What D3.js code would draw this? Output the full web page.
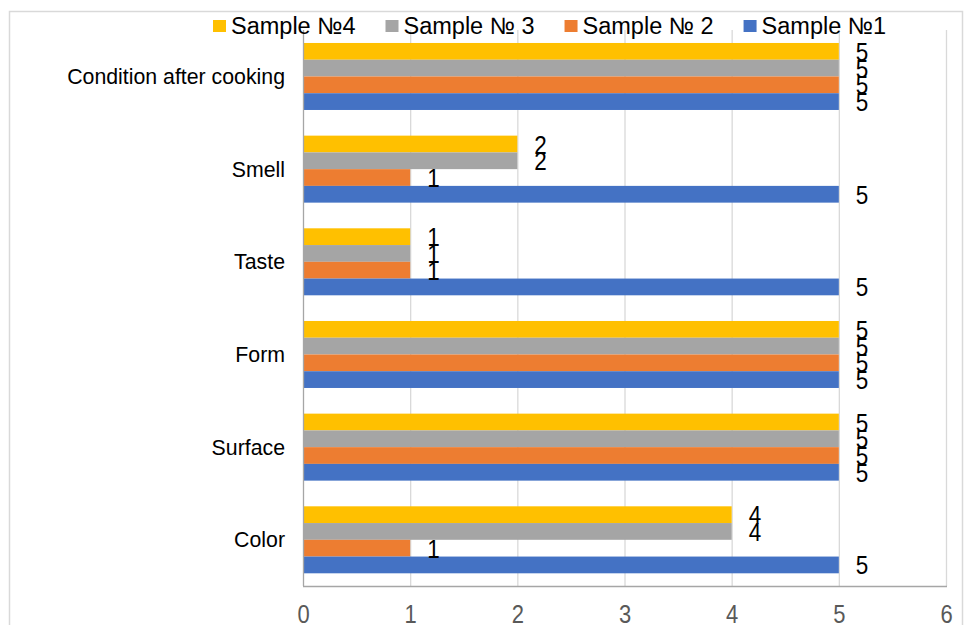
<!DOCTYPE html>
<html>
<head>
<meta charset="utf-8">
<script src="https://cdn.jsdelivr.net/npm/d3@7"></script>
<style>
  html, body { margin: 0; padding: 0; background: #fff; }
  svg { display: block; font-family: "Liberation Sans", Arial, sans-serif; }
</style>
</head>
<body>
<svg id="chart" width="966" height="625"></svg>
<script>
// Categories, listed top to bottom
const categories = ["Condition after cooking", "Smell", "Taste", "Form", "Surface", "Color"];
// Series, listed top to bottom within each group
const seriesNames = ["Sample №4", "Sample № 3", "Sample № 2", "Sample №1"];
const seriesColors = ["#FFC000", "#A5A5A5", "#ED7D31", "#4472C4"];
// Scores per category (same order as categories)
const sample4 = [5, 2, 1, 5, 5, 4];
const sample3 = [5, 2, 1, 5, 5, 4];
const sample2 = [5, 1, 1, 5, 5, 1];
const sample1 = [5, 5, 5, 5, 5, 5];
const xTicks = [0, 1, 2, 3, 4, 5, 6];

const seriesValues = [sample4, sample3, sample2, sample1];

const svg = d3.select("#chart");

// Outer chart frame
svg.append("rect")
  .attr("x", 9.5).attr("y", 11.5)
  .attr("width", 953).attr("height", 700)
  .attr("fill", "#fff").attr("stroke", "#D9D9D9").attr("stroke-width", 1.5);

const plot = { left: 303, right: 946, top: 30, bottom: 586 };

const x = d3.scaleLinear().domain([0, 6]).range([plot.left, plot.right]);
const y = d3.scaleBand().domain(categories).range([plot.top, plot.bottom]);
const ySub = d3.scaleBand().domain(seriesNames)
  .range([y.bandwidth() * 0.14, y.bandwidth() * 0.863]);

// Vertical gridlines
svg.append("g")
  .selectAll("line")
  .data(xTicks.filter(t => t > 0))
  .join("line")
  .attr("x1", d => x(d) + 0.5).attr("x2", d => x(d) + 0.5)
  .attr("y1", plot.top).attr("y2", plot.bottom)
  .attr("stroke", "#D9D9D9").attr("stroke-width", 1.3);

// Bars
const rows = [];
categories.forEach((c, ci) => {
  seriesNames.forEach((s, si) => {
    rows.push({ cat: c, series: s, value: seriesValues[si][ci], color: seriesColors[si] });
  });
});

svg.append("g")
  .selectAll("rect")
  .data(rows)
  .join("rect")
  .attr("x", x(0))
  .attr("y", d => y(d.cat) + ySub(d.series))
  .attr("width", d => x(d.value) - x(0))
  .attr("height", ySub.bandwidth())
  .attr("fill", d => d.color);

// Axis lines
svg.append("line")
  .attr("x1", x(0) + 0.5).attr("x2", x(0) + 0.5)
  .attr("y1", plot.top).attr("y2", plot.bottom)
  .attr("stroke", "#A6A6A6").attr("stroke-width", 1.3);
svg.append("line")
  .attr("x1", x(0)).attr("x2", plot.right + 1)
  .attr("y1", plot.bottom + 0.5).attr("y2", plot.bottom + 0.5)
  .attr("stroke", "#A6A6A6").attr("stroke-width", 1.3);

// Value labels (slightly tall, narrow digits)
svg.append("g")
  .selectAll("text")
  .data(rows)
  .join("text")
  .attr("transform", d =>
    `translate(${x(d.value) + 17},${y(d.cat) + ySub(d.series) + ySub.bandwidth() / 2 + 9.5}) scale(1,1.15)`)
  .attr("font-size", 22.5)
  .attr("fill", "#000")
  .text(d => d.value);

// X axis tick labels
const xAxis = d3.axisBottom(x).tickValues(xTicks).tickSize(0).tickPadding(0).tickFormat(d3.format("d"));
const gx = svg.append("g").attr("transform", `translate(0,${plot.bottom})`).call(xAxis);
gx.select(".domain").remove();
gx.selectAll("text")
  .attr("font-size", 22)
  .attr("font-family", "\"Liberation Sans\", Arial, sans-serif")
  .attr("fill", "#595959")
  .attr("dy", null)
  .attr("y", 0)
  .attr("transform", "translate(0,36.5) scale(1,1.2)");

// Category labels
svg.append("g")
  .selectAll("text")
  .data(categories)
  .join("text")
  .attr("x", 285)
  .attr("y", d => y(d) + y.bandwidth() / 2 + 7.5)
  .attr("text-anchor", "end")
  .attr("font-size", 21.3)
  .attr("fill", "#000")
  .text(d => d);

// Legend
const legend = svg.append("g");
let lx = 213;
seriesNames.forEach((s, i) => {
  legend.append("rect")
    .attr("x", lx).attr("y", 20).attr("width", 13).attr("height", 12)
    .attr("fill", seriesColors[i]);
  const t = legend.append("text")
    .attr("x", lx + 18).attr("y", 33.5)
    .attr("font-size", 23.5).attr("fill", "#000")
    .text(s);
  lx = lx + 18 + t.node().getComputedTextLength() + 30;
});
</script>
</body>
</html>
